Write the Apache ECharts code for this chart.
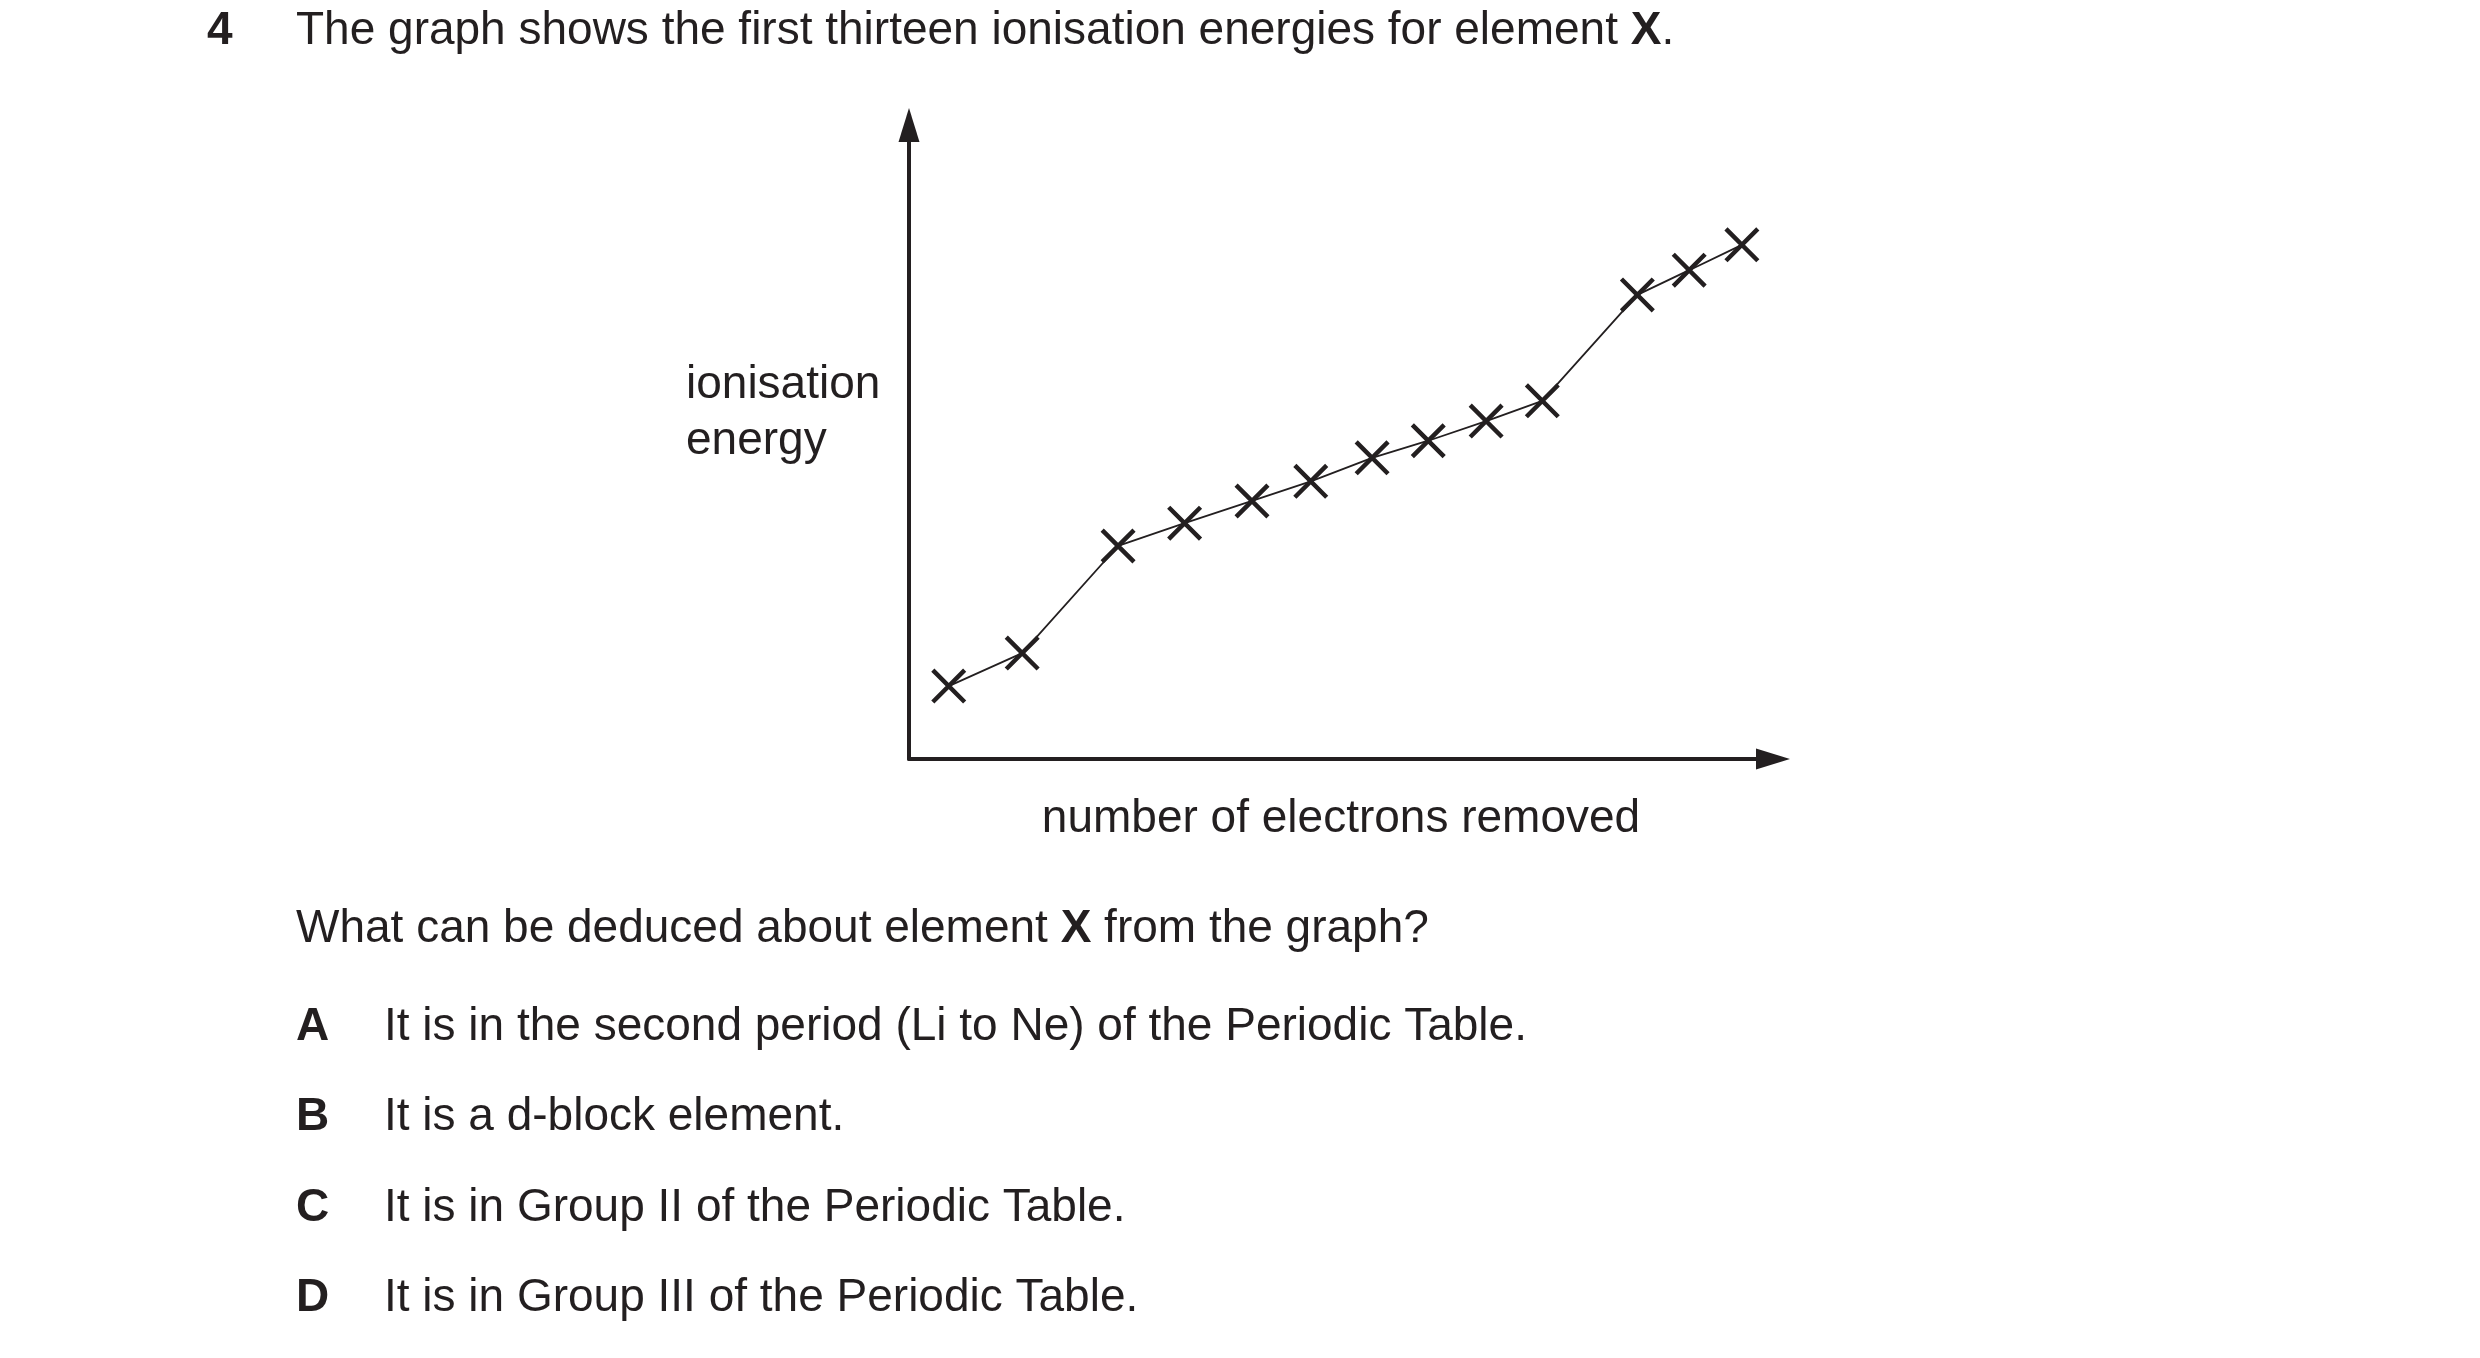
<!DOCTYPE html>
<html>
<head>
<meta charset="utf-8">
<script src="https://cdn.jsdelivr.net/npm/echarts@6/dist/echarts.min.js"></script>
<style>
html,body{margin:0;padding:0;background:#fff;}
#chart{width:2480px;height:1358px;}
</style>
</head>
<body>
<div id="chart"></div>
<script>
// ---- data (arbitrary units; the axes carry no scale) ----
var electronsRemoved = [1,2,3,4,5,6,7,8,9,10,11,12,13];
var xPosition = [4.6, 13.1, 24.2, 31.9, 39.7, 46.5, 53.6, 60.1, 66.8, 73.3, 84.3, 90.3, 96.4];
var ionisationEnergy = [11.5, 16.7, 33.6, 37.2, 40.7, 43.8, 47.5, 50.2, 53.3, 56.5, 73.2, 77.1, 81.1];

var questionNumber = '4';
var questionTitle = 'The graph shows the first thirteen ionisation energies for element {b|X}.';
var yLabelLines = ['ionisation', 'energy'];
var xLabel = 'number of electrons removed';
var questionText = 'What can be deduced about element {b|X} from the graph?';
var optionLetters = ['A', 'B', 'C', 'D'];
var optionTexts = [
  'It is in the second period (Li to Ne) of the Periodic Table.',
  'It is a d-block element.',
  'It is in Group II of the Periodic Table.',
  'It is in Group III of the Periodic Table.'
];

var INK = '#231f20';
var FONT = '"Liberation Sans", Arial, Helvetica, sans-serif';
var FS = 46;

function txt(x, y, text, opts) {
  opts = opts || {};
  return {
    type: 'text', x: x, y: y, silent: true,
    style: {
      text: text,
      fill: INK,
      fontFamily: FONT,
      fontSize: FS,
      fontWeight: opts.bold ? 'bold' : 'normal',
      align: opts.align || 'left',
      verticalAlign: 'middle',
      rich: { b: { fontWeight: 'bold', fontFamily: FONT, fontSize: FS, fill: INK } }
    }
  };
}

var DY = 4;
var graphics = [];
graphics.push(txt(207, 27 + DY, questionNumber, {bold: true}));
graphics.push(txt(296, 27 + DY, questionTitle));
graphics.push(txt(686, 381 + DY, yLabelLines[0]));
graphics.push(txt(686, 437 + DY, yLabelLines[1]));
graphics.push(txt(1341, 815 + DY, xLabel, {align: 'center'}));
graphics.push(txt(296, 925 + DY, questionText));
var optionY = [1023, 1113, 1204, 1294];
optionLetters.forEach(function (l, i) {
  graphics.push(txt(296, optionY[i] + DY, l, {bold: true}));
  graphics.push(txt(384, optionY[i] + DY, optionTexts[i]));
});

var crossPath = 'path://M1.59,-1.59L33.59,30.41L30.41,33.59L-1.59,1.59ZM30.41,-1.59L33.59,1.59L1.59,33.59L-1.59,30.41Z';
var arrowPath = 'path://M0,0L10.5,34L-10.5,34Z';

var axisCommon = {
  type: 'value', min: 0, max: 100,
  axisLine: { show: true, onZero: false, symbol: ['none', arrowPath], symbolSize: [21, 34],
              lineStyle: { color: INK, width: 4 } },
  axisTick: { show: false }, axisLabel: { show: false }, splitLine: { show: false }
};

var chart = echarts.init(document.getElementById('chart'), null, { renderer: 'canvas' });
chart.setOption({
  backgroundColor: '#ffffff',
  animation: false,
  grid: { left: 909, top: 125, width: 864, height: 634, containLabel: false },
  xAxis: axisCommon,
  yAxis: axisCommon,
  graphic: graphics,
  series: [{
    type: 'line',
    data: xPosition.map(function (x, i) { return [x, ionisationEnergy[i], electronsRemoved[i]]; }),
    symbol: crossPath,
    symbolSize: 35,
    showSymbol: true,
    itemStyle: { color: INK, borderWidth: 0 },
    lineStyle: { color: INK, width: 1.8 },
    emphasis: { disabled: true }
  }]
});
</script>
</body>
</html>
